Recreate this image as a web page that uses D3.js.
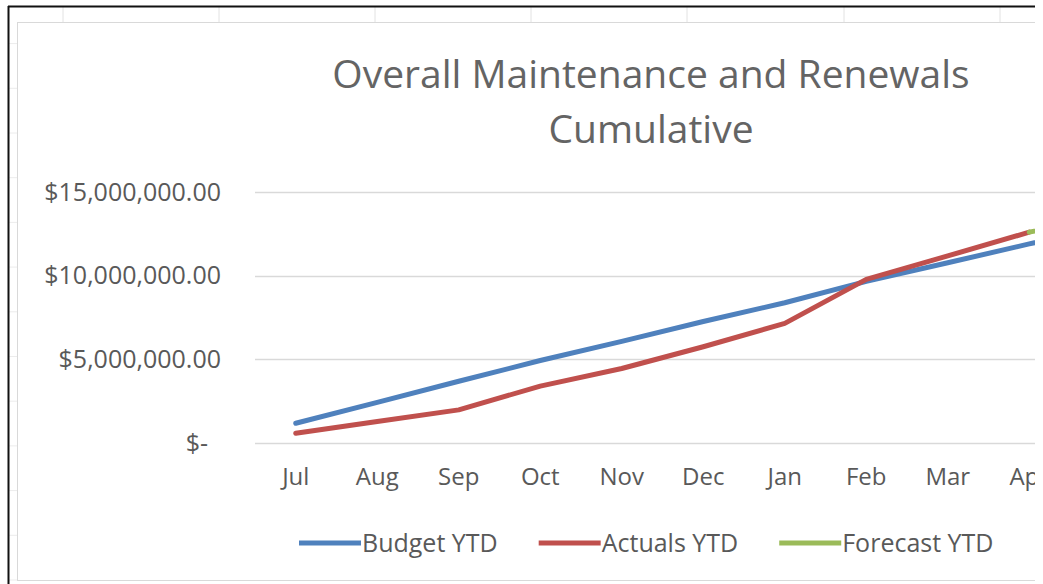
<!DOCTYPE html>
<html>
<head>
<meta charset="utf-8">
<script src="https://cdn.jsdelivr.net/npm/d3@7"></script>
<style>
  body { margin: 0; background: #fff; }
  text { font-family: "Open Sans", sans-serif; fill: #595959; }
</style>
</head>
<body>
<script>
// data (dollars)
var months = ["Jul", "Aug", "Sep", "Oct", "Nov", "Dec", "Jan", "Feb", "Mar", "Apr", "May", "Jun"];
var budgetYTD = [1180000, 2430000, 3690000, 4930000, 6070000, 7260000, 8380000, 9660000, 10770000, 11900000, 13000000, 14100000];
var actualsYTD = [580000, 1280000, 1980000, 3400000, 4450000, 5750000, 7150000, 9780000, 11180000, 12600000, null, null];
var forecastYTD = [null, null, null, null, null, null, null, null, null, 12600000, 13600000, 14600000];
var yTicks = [0, 5000000, 10000000, 15000000];
var seriesNames = ["Budget YTD", "Actuals YTD", "Forecast YTD"];
var seriesColors = ["#4F81BD", "#C0504D", "#9BBB59"];

var width = 1043, height = 584;

var svg = d3.select("body").append("svg")
    .attr("width", width)
    .attr("height", height);

// the picture is cut off at the right
svg.append("clipPath").attr("id", "cut")
  .append("rect").attr("x", 0).attr("y", 0).attr("width", 1035).attr("height", height);

var g = svg.append("g").attr("clip-path", "url(#cut)");

// bits of the spreadsheet behind the chart
var sheetCols = [63, 219, 375, 531, 687, 844, 1000];
g.selectAll(".col").data(sheetCols).enter().append("line")
    .attr("x1", function(d) { return d; }).attr("x2", function(d) { return d; })
    .attr("y1", 7).attr("y2", 22)
    .attr("stroke", "#e2e2e2").attr("stroke-width", 1);
var sheetRows = d3.range(0, 13).map(function(i) { return 580 - i * 44.7; });
g.selectAll(".row").data(sheetRows).enter().append("line")
    .attr("x1", 9).attr("x2", 17)
    .attr("y1", function(d) { return d; }).attr("y2", function(d) { return d; })
    .attr("stroke", "#ececec").attr("stroke-width", 1);

// chart area border
g.append("line").attr("x1", 17.5).attr("x2", 17.5).attr("y1", 22).attr("y2", 580)
    .attr("stroke", "#d9d9d9");
g.append("line").attr("x1", 17).attr("x2", 1043).attr("y1", 22.5).attr("y2", 22.5)
    .attr("stroke", "#d9d9d9");
g.append("line").attr("x1", 17).attr("x2", 1043).attr("y1", 580.5).attr("y2", 580.5)
    .attr("stroke", "#d9d9d9");

// black frame of the screenshot
svg.append("line").attr("x1", 8.5).attr("x2", 8.5).attr("y1", 6).attr("y2", 584)
    .attr("stroke", "#111").attr("stroke-width", 2);
svg.append("line").attr("x1", 8).attr("x2", 1035).attr("y1", 6.5).attr("y2", 6.5)
    .attr("stroke", "#111").attr("stroke-width", 2);

// title
var title = g.append("text")
    .attr("text-anchor", "middle")
    .style("font-size", "39px")
    .style("fill", "#646464");
title.append("tspan").attr("x", 651).attr("y", 88).text("Overall Maintenance and Renewals");
title.append("tspan").attr("x", 651).attr("y", 143).text("Cumulative");

// scales
var x = d3.scaleBand().domain(months).range([255, 1233]);
var y = d3.scaleLinear().domain([0, 15000000]).range([443, 192]);

// gridlines
g.selectAll(".grid").data(yTicks).enter().append("line")
    .attr("x1", 255).attr("x2", 1233)
    .attr("y1", function(d) { return Math.round(y(d)) + 0.5; })
    .attr("y2", function(d) { return Math.round(y(d)) + 0.5; })
    .attr("stroke", "#d9d9d9").attr("stroke-width", 1.5);

// y axis labels
var yAxis = d3.axisLeft(y).tickValues(yTicks).tickSize(0).tickPadding(0)
    .tickFormat(function(d) {
        return d === 0 ? "$-\u00a0\u00a0" : "$" + d3.format(",.2f")(d);
    });
var yg = g.append("g").attr("transform", "translate(221,0)").call(yAxis);
yg.select(".domain").remove();
yg.selectAll("text").style("font-size", "25px").attr("fill", "#595959");

// x axis labels
var xAxis = d3.axisBottom(x).tickSize(0).tickPadding(0);
var xg = g.append("g").attr("transform", "translate(0,462)").call(xAxis);
xg.select(".domain").remove();
xg.selectAll("text").style("font-size", "24px").attr("fill", "#595959").attr("dy", "0.95em");

// lines
var allSeries = [budgetYTD, actualsYTD, forecastYTD];
var line = d3.line()
    .defined(function(d) { return d !== null; })
    .x(function(d, i) { return x(months[i]) + x.bandwidth() / 2; })
    .y(function(d) { return y(d); });

g.selectAll(".series").data(allSeries).enter().append("path")
    .attr("d", line)
    .attr("fill", "none")
    .attr("stroke", function(d, i) { return seriesColors[i]; })
    .attr("stroke-width", 5)
    .attr("stroke-linejoin", "round")
    .attr("stroke-linecap", "round");

// legend
var legend = g.append("g");
var lx = 299;
seriesNames.forEach(function(name, i) {
    legend.append("line")
        .attr("x1", lx).attr("x2", lx + 62)
        .attr("y1", 543).attr("y2", 543)
        .attr("stroke", seriesColors[i]).attr("stroke-width", 5);
    var t = legend.append("text")
        .attr("x", lx + 63).attr("y", 543).attr("dy", "0.35em")
        .style("font-size", "25px")
        .text(name);
    lx = lx + 63 + t.node().getComputedTextLength() + 41;
});
</script>
</body>
</html>
